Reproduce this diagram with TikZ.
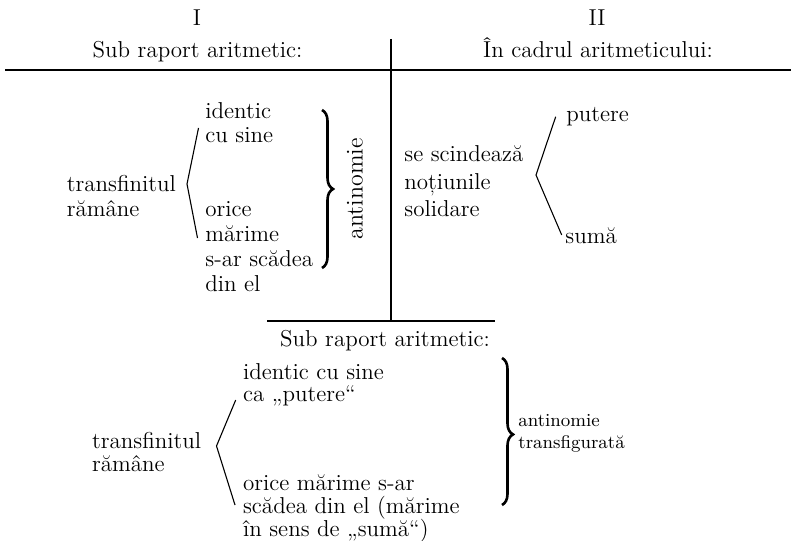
\documentclass[tikz,border=0pt]{standalone}
\usepackage{fontspec}
\usetikzlibrary{decorations.pathreplacing}
\begin{document}
\begin{tikzpicture}[x=0.5pt,y=-0.5pt,
  txt/.style={inner sep=0pt, anchor=base west, font=\fontsize{11.5}{13}\selectfont},
  ctxt/.style={txt, anchor=base},
  small/.style={inner sep=0pt, anchor=base west, font=\fontsize{9.2}{10}\selectfont},
  rulel/.style={line width=0.7pt},
  fork/.style={line width=0.55pt},
  bigbrace/.style={decorate, decoration={brace, amplitude=5.5pt, aspect=0.5}, line width=1.3pt}]
\useasboundingbox (0,0) rectangle (791,540);

% headers
\node[ctxt] (hI) at (197,26) {I};
\node[ctxt] (hII) at (597,26) {II};
\node[ctxt] (sub1) at (197.5,58) {Sub raport aritmetic:};
\node[ctxt] (cadru) at (598,58) {În cadrul aritmeticului:};

% rules
\coordinate (hl1) at (5,70);
\coordinate (hr1) at (791,70);
\coordinate (vt) at (391,39);
\coordinate (vb) at (391,321);
\coordinate (hl2) at (267,321);
\coordinate (hr2) at (495,321);
\draw[rulel] (hl1) -- (hr1);
\draw[rulel] (vt) -- (vb);
\draw[rulel] (hl2) -- (hr2);

% section I
\node[txt] (t1a) at (66.5,191.7) {transfinitul};
\node[txt] (t1b) at (66.5,216) {rămâne};
\node[txt] (i1a) at (205,118.3) {identic};
\node[txt] (i1b) at (205,142) {cu sine};
\node[txt] (o1a) at (205,216.7) {orice};
\node[txt] (o1b) at (205,241.7) {mărime};
\node[txt] (o1c) at (205,266.7) {s-ar scădea};
\node[txt] (o1d) at (205,291.7) {din el};
\coordinate (f1t) at (198.5,128);
\coordinate (f1v) at (187,184);
\coordinate (f1b) at (197.5,238);
\draw[fork] (f1t) -- (f1v) -- (f1b);
\coordinate (b1t) at (322,110);
\coordinate (b1b) at (322,268);
\draw[bigbrace] (b1t) -- (b1b);
\node[inner sep=0pt, anchor=base, rotate=90, font=\fontsize{12}{14}\selectfont] (ant1) at (362.5,189) {antinomie};

% section II
\node[txt] (s2a) at (404,161.7) {se scindează};
\node[txt] (s2b) at (404,189.5) {noțiunile};
\node[txt] (s2c) at (404,216.7) {solidare};
\node[txt] (p2) at (566,121.7) {putere};
\node[txt] (m2) at (565,243) {sumă};
\coordinate (f2t) at (555.7,116.7);
\coordinate (f2v) at (536,175);
\coordinate (f2b) at (561.7,235);
\draw[fork] (f2t) -- (f2v) -- (f2b);

% lower section
\node[ctxt] (sub3) at (385,346.7) {Sub raport aritmetic:};
\node[txt] (t3a) at (91.7,448) {transfinitul};
\node[txt] (t3b) at (91.7,471.7) {rămâne};
\node[txt] (i3a) at (242.7,379) {identic cu sine};
\node[txt] (i3b) at (242.7,401.7) {ca „putere“};
\node[txt] (o3a) at (242.7,490) {orice mărime s-ar};
\node[txt] (o3b) at (242.7,513) {scădea din el (mărime};
\node[txt] (o3c) at (242.7,536.5) {în sens de „sumă“)};
\coordinate (f3t) at (235.7,400);
\coordinate (f3v) at (216.5,446);
\coordinate (f3b) at (235,505);
\draw[fork] (f3t) -- (f3v) -- (f3b);
\coordinate (b3t) at (502,358);
\coordinate (b3b) at (502,505);
\draw[bigbrace, decoration={aspect=0.52}] (b3t) -- (b3b);
\node[small] (a3a) at (518,426.7) {antinomie};
\node[small] (a3b) at (518,448.3) {transfigurată};
\end{tikzpicture}
\end{document}
